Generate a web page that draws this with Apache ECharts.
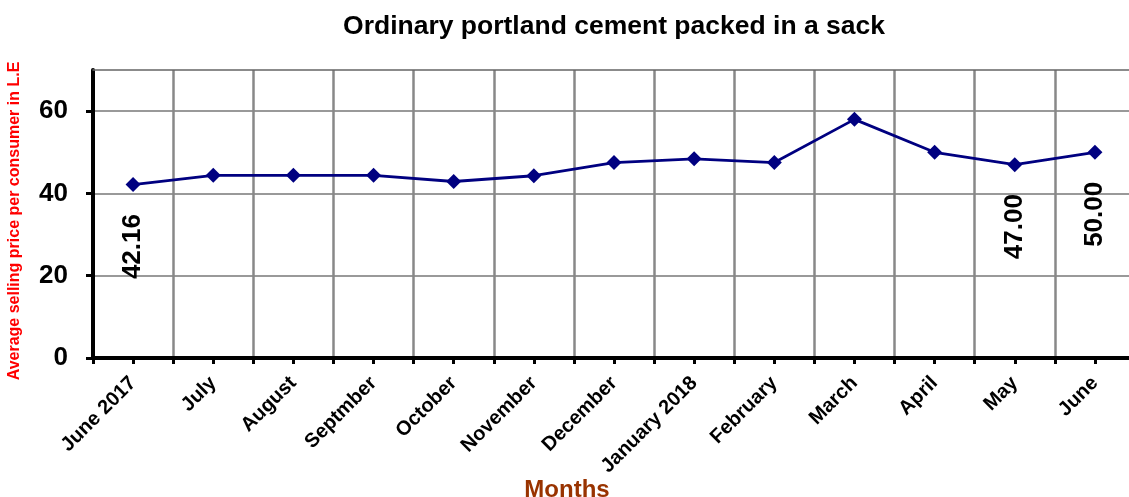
<!DOCTYPE html>
<html>
<head>
<meta charset="utf-8">
<script src="https://cdn.jsdelivr.net/npm/echarts@6/dist/echarts.min.js"></script>
<style>
  html, body { margin: 0; padding: 0; background: #fff; }
  #main { width: 1129px; height: 497px; }
</style>
</head>
<body>
<div id="main"></div>
<script>
// months on the x axis
const months = ['June 2017', 'July', 'August', 'Septmber', 'October', 'November',
  'December', 'January 2018', 'February', 'March', 'April', 'May', 'June'];
// average price per sack (L.E)
const prices = [42.16, 44.4, 44.4, 44.4, 42.9, 44.3, 47.5, 48.4, 47.5, 58.0, 50.0, 47.00, 50.00];
// points that carry a value label
const labelledPoints = [0, 11, 12];
const yTicks = [0, 20, 40, 60];

const font = 'Arial, "Liberation Sans", sans-serif';

const chart = echarts.init(document.getElementById('main'));

const seriesData = prices.map((v, i) => {
  if (labelledPoints.indexOf(i) < 0) return v;
  return {
    value: v,
    label: {
      show: true,
      position: 'bottom',
      distance: 19,
      rotate: 90,
      align: 'right',
      verticalAlign: 'middle',
      offset: [-3, 0],
      formatter: p => p.value.toFixed(2),
      fontFamily: font,
      fontWeight: 'bold',
      fontSize: 26,
      color: '#000'
    }
  };
});

const option = {
  animation: false,
  backgroundColor: '#fff',
  title: {
    text: 'Ordinary portland cement packed in a sack',
    left: 609,
    textAlign: 'center',
    top: 8,
    textStyle: { fontFamily: font, fontWeight: 'bold', fontSize: 26.5, color: '#000' }
  },
  grid: { left: 93, right: -6, top: 70, bottom: 139, containLabel: false, outerBoundsMode: 'none' },
  xAxis: [
    {
      type: 'category',
      data: months,
      boundaryGap: true,
      name: 'Months',
      nameLocation: 'middle',
      nameGap: 120,
      nameMoveOverlap: false,
      nameTextStyle: {
        fontFamily: font, fontWeight: 'bold', fontSize: 24, color: '#993300',
        padding: [0, 94, 0, 0]
      },
      axisLine: { lineStyle: { color: '#000', width: 4 } },
      axisTick: { show: true, length: 6, lineStyle: { color: '#000', width: 3 } },
      axisLabel: {
        rotate: 45,
        margin: 22,
        interval: 0,
        fontFamily: font, fontWeight: 'bold', fontSize: 20, color: '#000'
      },
      splitLine: { show: true, interval: 0, lineStyle: { color: '#888', width: 2.5 } }
    },
    {
      // extra ticks at category centres
      type: 'category',
      data: months,
      position: 'bottom',
      gridIndex: 0,
      axisLine: { show: false },
      axisTick: { show: true, alignWithLabel: true, interval: 0, length: 6, lineStyle: { color: '#000', width: 3 } },
      axisLabel: { show: false },
      splitLine: { show: false }
    },
    {
      // top border
      type: 'category',
      data: months,
      position: 'top',
      axisLine: { lineStyle: { color: '#666', width: 1.5 } },
      axisTick: { show: false },
      axisLabel: { show: false },
      splitLine: { show: false }
    }
  ],
  yAxis: {
    type: 'value',
    min: 0,
    max: 70,
    interval: 20,
    name: 'Average selling price per consumer in L.E',
    nameLocation: 'middle',
    nameGap: 70,
    nameMoveOverlap: false,
    nameTextStyle: {
      fontFamily: font, fontWeight: 'bold', fontSize: 16, color: '#ff0000',
      padding: [0, 14, 0, 0]
    },
    axisLine: { show: true, lineStyle: { color: '#000', width: 4 } },
    axisTick: { show: true, length: 7, customValues: yTicks, lineStyle: { color: '#000', width: 3 } },
    axisLabel: {
      customValues: yTicks,
      margin: 25,
      fontFamily: font, fontWeight: 'bold', fontSize: 26, color: '#000'
    },
    splitLine: { show: true, lineStyle: { color: '#999', width: 2 } }
  },
  series: [
    {
      type: 'line',
      data: seriesData,
      xAxisIndex: 0,
      symbol: 'diamond',
      symbolSize: 15,
      lineStyle: { color: '#000080', width: 2.8 },
      itemStyle: { color: '#000080' },
      z: 5
    }
  ]
};

chart.setOption(option);
</script>
</body>
</html>
